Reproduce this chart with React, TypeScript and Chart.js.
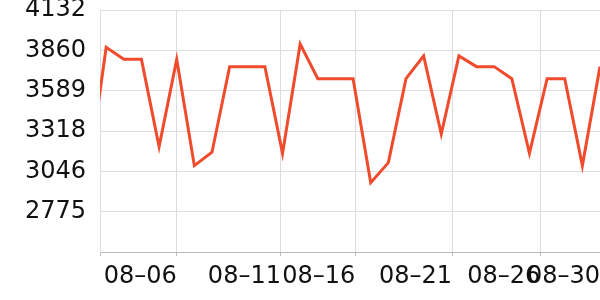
import React, { useEffect, useRef } from "react";
import { Chart, registerables } from "chart.js";

Chart.register(...registerables);

// daily values; first point lies just left of the visible range
const values = [
  3029, 3881, 3800, 3800, 3212, 3800, 3085, 3175, 3751, 3751, 3751, 3168, 3903,
  3670, 3670, 3670, 2970, 3105, 3670, 3823, 3298, 3823, 3751, 3751, 3670, 3168,
  3670, 3670, 3085, 3751,
];
const firstIndex = -1;
const xMin = -0.35;
const xMax = 28;
const xTickValues = [-0.35, 4, 9.91, 14.13, 19.61, 24.61, 28];
const xTickLabels = ["", "08–06", "08–11", "08–16", "08–21", "08–26", "08–30"];
const yMin = 2504;
const yMax = 4132;
const ySteps = 6;

const FONT = { family: "'DejaVu Sans', sans-serif", size: 24 };

const zeroPad = (scale: any) => {
  scale.paddingTop = 0;
  scale.paddingBottom = 0;
  scale.paddingLeft = 0;
  scale.paddingRight = 0;
};

export default function App() {
  const ref = useRef<HTMLCanvasElement | null>(null);

  useEffect(() => {
    document.body.style.margin = "0";
    const canvas = ref.current;
    if (!canvas) return;
    const points = values.map((v, i) => ({ x: i + firstIndex, y: v }));
    const chart = new Chart(canvas, {
      type: "line",
      data: {
        datasets: [
          {
            data: points,
            borderColor: "#EF4B2C",
            borderWidth: 3,
            pointRadius: 0,
            pointHoverRadius: 0,
            tension: 0,
            fill: false,
            clip: 0,
          } as any,
        ],
      },
      options: {
        responsive: false,
        animation: false,
        events: [],
        layout: { padding: { top: 10, right: 0, left: 0, bottom: 0 } },
        plugins: { legend: { display: false }, tooltip: { enabled: false } },
        scales: {
          x: {
            type: "linear",
            min: xMin,
            max: xMax,
            afterBuildTicks: (scale: any) => {
              scale.ticks = xTickValues.map((v) => ({ value: v }));
            },
            afterFit: (scale: any) => {
              scale.height = 48;
              zeroPad(scale);
            },
            grid: {
              color: (ctx: any) =>
                ctx.index === xTickValues.length - 1 ? "rgba(0,0,0,0)" : "#dddddd",
              tickColor: "#bbbbbb",
              tickLength: 4,
              drawTicks: true,
            },
            border: { color: "#bbbbbb", width: 1 },
            ticks: {
              autoSkip: false,
              maxRotation: 0,
              minRotation: 0,
              align: "end",
              padding: 6,
              color: "#111",
              font: FONT,
              callback: (_v: any, i: number) => xTickLabels[i] ?? "",
            },
          },
          y: {
            type: "linear",
            min: yMin,
            max: yMax,
            afterBuildTicks: (scale: any) => {
              const step = (yMax - yMin) / ySteps;
              const t = [];
              for (let i = 0; i <= ySteps; i++) t.push({ value: yMin + step * i });
              scale.ticks = t;
            },
            afterFit: (scale: any) => {
              scale.width = 100;
              zeroPad(scale);
            },
            grid: { color: "#dddddd", drawTicks: false },
            border: { color: "#dddddd", width: 1 },
            ticks: {
              padding: 14,
              color: "#111",
              font: FONT,
              callback: (v: any, i: number) => (i === 0 ? "" : String(Math.floor(v))),
            },
          },
        },
      },
    });
    return () => chart.destroy();
  }, []);

  return (
    <div style={{ position: "absolute", left: 0, top: 0, width: 600, height: 300 }}>
      <canvas ref={ref} width={600} height={300} style={{ display: "block" }} />
    </div>
  );
}
